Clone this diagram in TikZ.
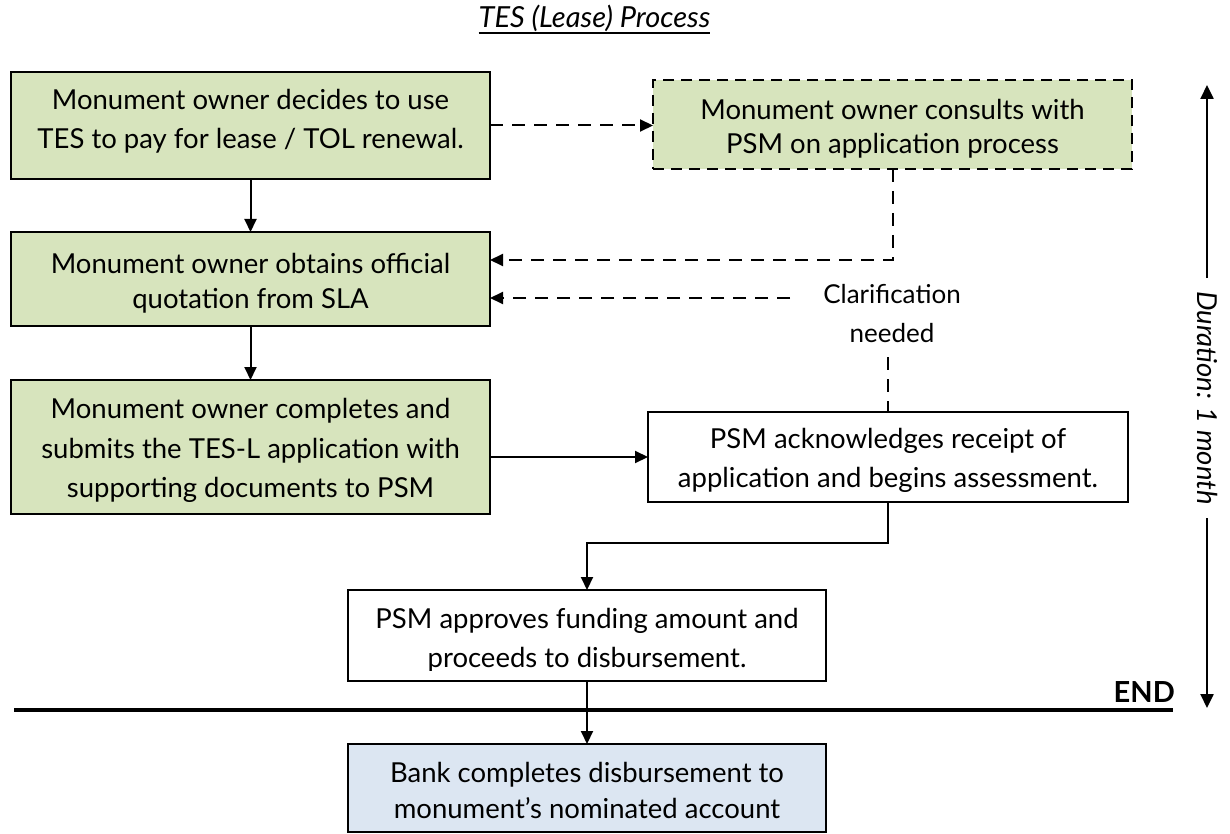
\documentclass[tikz,border=0pt]{standalone}
\usepackage{fontspec}
\setmainfont{Lato}
\usetikzlibrary{arrows.meta}
\definecolor{boxgreen}{HTML}{D7E4BD}
\definecolor{boxblue}{HTML}{DCE6F2}
\begin{document}
\begin{tikzpicture}[x=1pt,y=-1pt,
  box/.style={draw=black, line width=1.8pt, minimum width=479pt, inner sep=0pt, outer sep=0pt, anchor=center},
  txt/.style={anchor=base, inner sep=0pt, font=\fontsize{27.5}{30}\selectfont},
  conn/.style={line width=2pt, -{Triangle[length=13pt,width=12pt]}},
  dashline/.style={line width=2pt, dash pattern=on 13pt off 9pt},
  dconn/.style={conn, dash pattern=on 13pt off 9pt},
  durarrow/.style={line width=2.4pt, -{Triangle[length=14pt,width=13pt]}},
]
\useasboundingbox (0,0) rectangle (1230,834);

% title
\node[txt, font=\fontsize{29}{32}\selectfont\itshape] (title) at (594.5,28) {TES (Lease) Process};
\draw[line width=1.8pt] ([yshift=-5pt]title.base west) -- ([yshift=-5pt]title.base east);

% boxes
\node[box, fill=boxgreen, minimum height=107pt] (b1) at (250.5,125.5) {};
\node[box, fill=boxgreen, minimum height=89pt, dash pattern=on 11pt off 7pt] (b2) at (892.5,124.5) {};
\node[box, fill=boxgreen, minimum height=94pt] (b3) at (250.5,279) {};
\node[box, fill=boxgreen, minimum height=134pt] (b4) at (250.5,447) {};
\node[box, fill=white, minimum height=90pt, minimum width=480pt] (b5) at (888,457) {};
\node[box, fill=white, minimum height=91pt, minimum width=478pt] (b6) at (587,635.5) {};
\node[box, fill=boxblue, minimum height=88pt, minimum width=478pt] (b7) at (587,788) {};

% texts
\node[txt] (t1a) at (250.5,110) {Monument owner decides to use};
\node[txt] (t1b) at (250.5,149) {TES to pay for lease / TOL renewal.};
\begin{scope}
  \clip (653,80) rectangle (1132,160);
  \node[txt] (t2a) at (892.5,120) {Monument owner consults with};
  \node[txt] (t2b) at (892.5,154) {PSM on application process};
\end{scope}
\node[txt] (t3a) at (250.5,273) {Monument owner obtains official};
\node[txt] (t3b) at (250.5,308) {quotation from SLA};
\node[txt] (t4a) at (250.5,418) {Monument owner completes and};
\node[txt] (t4b) at (250.5,458) {submits the TES-L application with};
\node[txt] (t4c) at (250.5,497) {supporting documents to PSM};
\begin{scope}
  \clip (648,412) rectangle (1128,491);
  \node[txt] (t5a) at (888,448) {PSM acknowledges receipt of};
  \node[txt] (t5b) at (888,487) {application and begins assessment.};
\end{scope}
\begin{scope}
  \clip (348,590) rectangle (826,670);
  \node[txt] (t6a) at (587,628) {PSM approves funding amount and};
  \node[txt] (t6b) at (587,667) {proceeds to disbursement.};
\end{scope}
\node[txt] (t7a) at (587,782) {Bank completes disbursement to};
\node[txt] (t7b) at (587,818) {monument’s nominated account};

\node[txt, font=\fontsize{26}{30}\selectfont] (c1) at (892,303) {Clarification};
\node[txt, font=\fontsize{26}{30}\selectfont] (c2) at (892,342) {needed};

% connectors
\draw[conn] (b1.south) -- (b3.north);
\draw[conn] (b3.south) -- (b4.north);
\draw[dconn] (b1.east) -- (b2.west |- b1.east);
\draw[dconn] (b2.south) |- ([yshift=19pt]b3.east);
\coordinate (cl) at (790,298);
\draw[dconn] (cl) -- (b3.east |- cl);
\coordinate (cv) at (888,357);
\draw[dashline] (cv) -- (b5.north);
\draw[conn] (b4.east |- b5.west) -- (b5.west);
\draw[conn] (b5.south) -- ++(0,41) -| (b6.north);
\draw[conn] (b6.south) -- (b7.north);

% END line
\draw[line width=3.8pt] (14,710) -- (1173,710);
\node[txt, font=\fontsize{29}{32}\selectfont\bfseries, anchor=base east] (endt) at (1175,702) {END};

% duration
\node[txt, anchor=center, rotate=-90, font=\fontsize{27.5}{30}\selectfont\itshape] (dur) at (1207,398) {Duration: 1 month};
\coordinate (du1) at (1207,278);
\coordinate (du2) at (1207,518);
\draw[durarrow] (du1) -- (1207,85);
\draw[durarrow] (du2) -- (1207,708);
\end{tikzpicture}
\end{document}
